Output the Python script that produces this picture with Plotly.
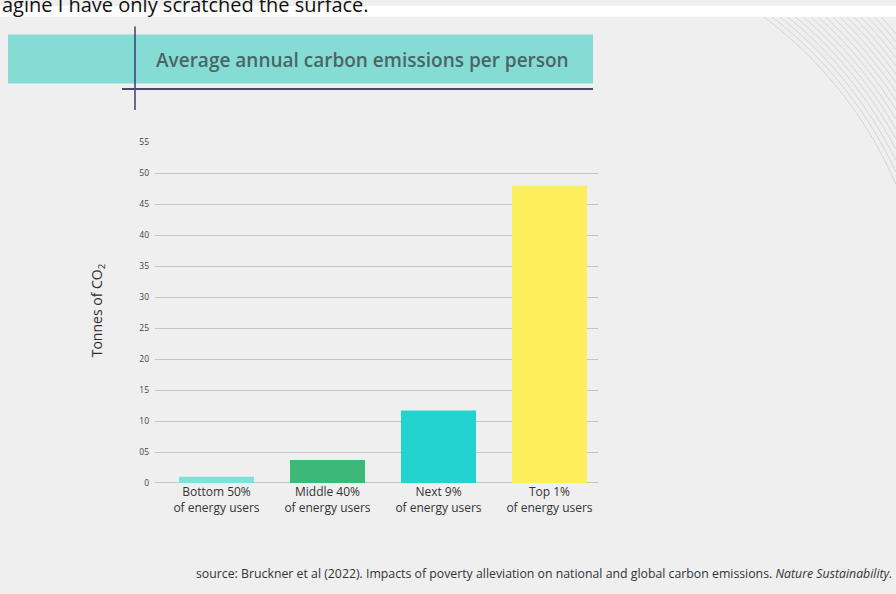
import math
import plotly.graph_objects as go

W, H = 896, 594

categories = ["Bottom 50%<br>of energy users", "Middle 40%<br>of energy users",
              "Next 9%<br>of energy users", "Top 1%<br>of energy users"]
emissions = [1.0, 3.7, 11.7, 48.0]
bar_colors = ["#7fe0dc", "#3cb878", "#22d3cf", "#fdef5c"]
tick_values = [0, 5, 10, 15, 20, 25, 30, 35, 40, 45, 50, 55]
tick_labels = ["0", "05", "10", "15", "20", "25", "30", "35", "40", "45", "50", "55"]

title_text = "Average annual carbon emissions per person"
y_title = "Tonnes of CO<sub>2</sub>"
source_text = ("source: Bruckner et al (2022). Impacts of poverty alleviation on national and "
               "global carbon emissions. <i>Nature Sustainability.</i>")
top_text = "agine I have only scratched the surface."


def px(x):
    return x / W


def py(y):
    return 1 - y / H


fig = go.Figure()
fig.add_trace(go.Bar(x=categories, y=emissions, marker=dict(color=bar_colors, line=dict(width=0)),
                     width=0.676, hoverinfo="x+y"))

shapes = []
# right-side lighter gradient (soft corner)
for i in range(30):
    x0 = 680 + i * 6.5
    y0 = 60 + i * 9
    shapes.append(dict(type="rect", xref="paper", yref="paper", x0=px(x0), x1=1, y0=0, y1=py(y0),
                       fillcolor="rgba(255,255,255,0.05)", line=dict(width=0), layer="below"))
# concentric arcs (decoration)
cx, cy = 509, 345
for k in range(17):
    r = 420 + k * 5
    a0 = math.atan2(11 - cy, math.sqrt(max(r * r - (cy - 11) ** 2, 0)))
    xe = 896
    a1 = math.atan2(-(math.sqrt(max(r * r - (xe - cx) ** 2, 0))), xe - cx)
    pts = []
    n = 30
    for j in range(n + 1):
        a = a0 + (a1 - a0) * j / n
        pts.append((cx + r * math.cos(a), cy + r * math.sin(a)))
    path = "M " + " L ".join(f"{px(x):.5f},{py(y):.5f}" for x, y in pts)
    shapes.append(dict(type="path", xref="paper", yref="paper", path=path,
                       line=dict(color="rgba(80,80,80,0.25)", width=0.7), layer="below"))
# top white strip
shapes.append(dict(type="rect", xref="paper", yref="paper", x0=0, x1=1, y0=py(11), y1=1,
                   fillcolor="white", line=dict(width=0), layer="below"))
# teal title band
shapes.append(dict(type="rect", xref="paper", yref="paper", x0=px(8), x1=px(593), y0=py(79), y1=py(29),
                   fillcolor="#85dcd5", line=dict(width=0), layer="below"))
# cross lines
shapes.append(dict(type="line", xref="paper", yref="paper", x0=px(135), x1=px(135), y0=py(106), y1=py(21),
                   line=dict(color="#3c3f66", width=1.5), layer="above"))
shapes.append(dict(type="line", xref="paper", yref="paper", x0=px(122), x1=px(593), y0=py(84.5), y1=py(84.5),
                   line=dict(color="#4a4b6b", width=2), layer="above"))

annotations = [
    dict(text=title_text, xref="paper", yref="paper", x=px(154), y=py(55), xanchor="left", yanchor="middle",
         showarrow=False, font=dict(family="Open Sans", size=19, color="#4a6566", weight=600)),
    dict(text=y_title, xref="paper", yref="paper", x=px(97), y=py(310), xanchor="center", yanchor="middle",
         textangle=-90, showarrow=False, font=dict(family="Open Sans", size=14, color="#2e2e2e")),
    dict(text=source_text, xref="paper", yref="paper", x=px(894), y=py(578), xanchor="right", yanchor="middle",
         showarrow=False, font=dict(family="Open Sans", size=12.3, color="#333333")),
    dict(text=top_text, xref="paper", yref="paper", x=0, y=py(14), xanchor="left", yanchor="bottom",
         showarrow=False, font=dict(family="Open Sans", size=20, color="#111111")),
]

fig.update_layout(
    width=W, height=H, margin=dict(l=0, r=0, t=0, b=0),
    paper_bgcolor="#efefef", plot_bgcolor="rgba(0,0,0,0)",
    showlegend=False, shapes=shapes, annotations=annotations,
    bargap=0.33,
    xaxis=dict(domain=[px(155), px(598)], range=[-0.554, 3.437], showgrid=False, zeroline=False,
               showline=False, ticks="", tickfont=dict(family="Open Sans", size=12, color="#333333")),
    yaxis=dict(domain=[py(486), py(139)], range=[0, 55], tickvals=tick_values, ticktext=tick_labels,
               showgrid=True, gridcolor="#c4c4c4", gridwidth=1.4, zeroline=True, zerolinecolor="#c4c4c4",
               zerolinewidth=1.4, showline=False, ticks="", ticklabelstandoff=5,
               tickfont=dict(family="Open Sans", size=8.5, color="#444444")),
)

fig.write_html("out.html", config={"displayModeBar": False},
               post_script="document.body.style.margin='0';")
